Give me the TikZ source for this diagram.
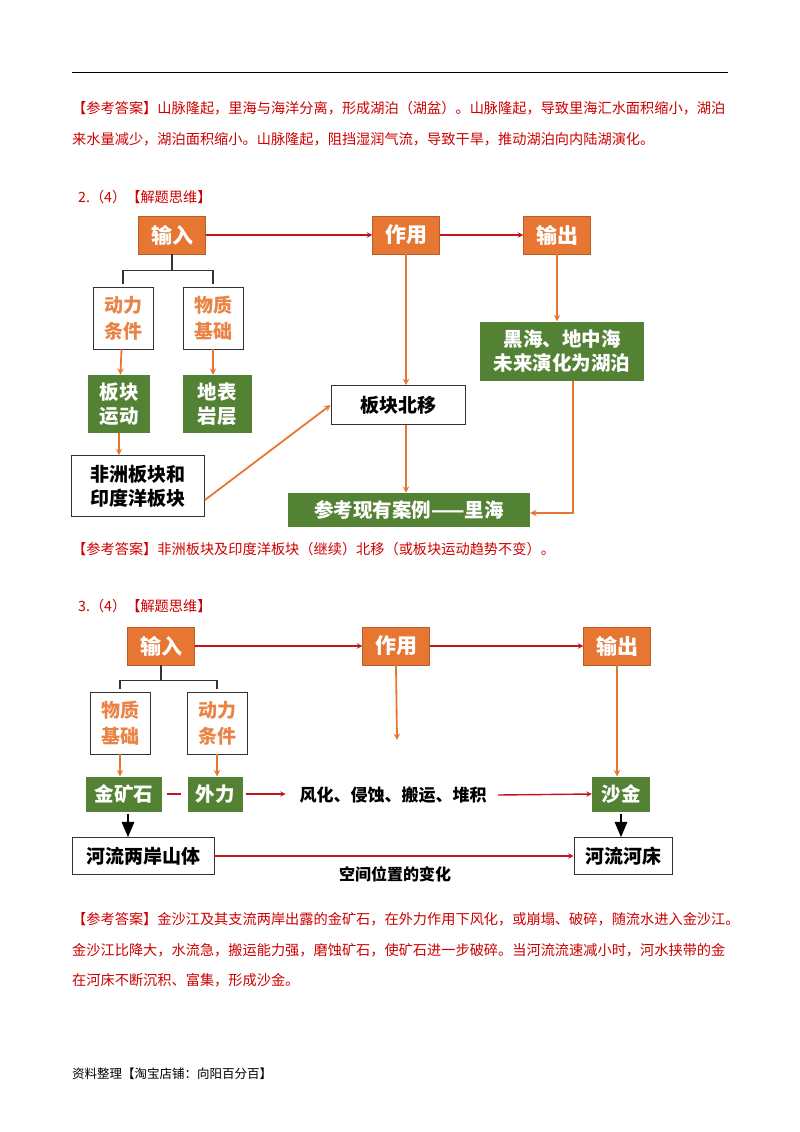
\documentclass[tikz,border=0pt]{standalone}
\usepackage{fontspec}
\setmainfont{Noto Sans CJK SC}
\usetikzlibrary{arrows, positioning, calc}
\definecolor{ansred}{RGB}{204,0,0}
\definecolor{boxorange}{RGB}{230,118,50}
\definecolor{boxgreen}{RGB}{84,130,53}
\definecolor{arrred}{RGB}{192,20,30}
\begin{document}
\begin{tikzpicture}[x=1pt, y=-1pt, >=stealth,
	head/.style={fill=boxorange, draw=boxorange!80!black, text=white, font=\fontsize{21}{22}\selectfont\bfseries, minimum width=67pt, minimum height=38pt, inner sep=0pt},
	green/.style={fill=boxgreen, text=white, font=\fontsize{19.5}{24}\selectfont\bfseries, align=center, inner sep=0pt},
	plain/.style={draw=black!80, fill=white, thick, font=\fontsize{19}{24}\selectfont\bfseries, align=center, inner sep=0pt},
	cond/.style={draw=black!80, fill=white, thick, text=boxorange!90, font=\fontsize{19}{26}\selectfont\bfseries, align=center, inner sep=0pt, minimum width=60pt, minimum height=62pt},
	ans/.style={anchor=west, text=ansred, font=\fontsize{14.2}{16}\selectfont, inner sep=0pt},
	flow/.style={->, arrred, line width=1.4pt},
	feed/.style={->, boxorange, line width=1.8pt},
	brace/.style={black!80, line width=1.2pt}]
	\useasboundingbox (0,0) rectangle (800,1132);
	\draw[line width=0.8pt] (72,72) -- (728,72);

	\node[ans] (a1) at (72,108) {【参考答案】山脉隆起，里海与海洋分离，形成湖泊（湖盆）。山脉隆起，导致里海汇水面积缩小，湖泊};
	\node[ans] (a2) at (72,139) {来水量减少，湖泊面积缩小。山脉隆起，阻挡湿润气流，导致干旱，推动湖泊向内陆湖演化。};

	% question 2
	\node[ans] (q2) at (78,197) {2.（4）【解题思维】};
	\node[head] (in2) at (172,235) {输入};
	\node[head] (act2) at (406,235) {作用};
	\node[head] (out2) at (557,235) {输出};
	\node[cond] (dl2) at (123,318) {动力\\条件};
	\node[cond] (wz2) at (213,318) {物质\\基础};
	\node[green, minimum width=62pt, minimum height=58pt] (bk2) at (119,404) {板块\\运动};
	\node[green, minimum width=69pt, minimum height=58pt] (db2) at (217,404) {地表\\岩层};
	\node[plain, minimum width=133pt, minimum height=61pt] (fz2) at (138,486) {非洲板块和\\印度洋板块};
	\node[plain, minimum width=134pt, minimum height=39pt] (bb2) at (398,405) {板块北移};
	\node[green, minimum width=242pt, minimum height=34pt] (ck2) at (409,510) {参考现有案例——里海};
	\node[green, minimum width=164pt, minimum height=59pt] (hh2) at (562,351) {黑海、地中海\\未来演化为湖泊};

	\draw[flow] (in2) -- (act2);
	\draw[flow] (act2) -- (out2);
	\draw[brace] (in2.south) -- ++(0,16) coordinate (b2);
	\draw[brace] (dl2.north) ++(0,-3) |- (b2) -| ($(wz2.north)+(0,-3)$);
	\draw[feed] (dl2) -- (bk2);
	\draw[feed] (wz2) -- (wz2 |- db2.north);
	\draw[feed] (bk2) -- (bk2 |- fz2.north);
	\draw[feed] ($(fz2.east)+(0,14)$) -- (bb2.west);
	\draw[feed] (act2.south) -- (act2.south |- bb2.north);
	\draw[feed] (act2 |- bb2.south) -- (act2 |- ck2.north);
	\draw[feed] (out2.south) -- (out2.south |- hh2.north);
	\draw[feed] ($(hh2.south)+(11,0)$) |- ($(ck2.east)+(0,3)$);

	\node[ans] (a3) at (72,549) {【参考答案】非洲板块及印度洋板块（继续）北移（或板块运动趋势不变）。};

	% question 3
	\node[ans] (q3) at (78,606) {3.（4）【解题思维】};
	\node[head] (in3) at (161,646) {输入};
	\node[head] (act3) at (396,646) {作用};
	\node[head] (out3) at (617,646) {输出};
	\node[cond] (wz3) at (120,723) {物质\\基础};
	\node[cond] (dl3) at (217,723) {动力\\条件};
	\node[green, minimum width=76pt, minimum height=35pt] (jk3) at (124,794) {金矿石};
	\node[green, minimum width=55pt, minimum height=35pt] (wl3) at (215,794) {外力};
	\node[green, minimum width=58pt, minimum height=35pt] (sj3) at (621,794) {沙金};
	\node[plain, minimum width=142pt, minimum height=37pt] (hl3) at (143,856) {河流两岸山体};
	\node[plain, minimum width=98pt, minimum height=37pt] (hc3) at (623,856) {河流河床};
	\node[font=\fontsize{17}{20}\selectfont\bfseries] (gc3) at (393,795) {风化、侵蚀、搬运、堆积};
	\node[font=\fontsize{16}{20}\selectfont\bfseries] (kj3) at (395,874) {空间位置的变化};
	\coordinate (e3) at (397,740);

	\draw[flow] (in3) -- (act3);
	\draw[flow] (act3) -- (out3);
	\draw[brace] (in3.south) -- ++(0,15) coordinate (b3);
	\draw[brace] (wz3.north) ++(0,-3) |- (b3) -| ($(dl3.north)+(0,-3)$);
	\draw[feed] (act3.south) -- (e3);
	\draw[feed] (out3.south) -- (out3.south |- sj3.north);
	\draw[feed] (wz3) -- (wz3 |- jk3.north);
	\draw[feed] (dl3) -- (dl3 |- wl3.north);
	\draw[arrred, line width=1.4pt] ($(jk3.east)+(5,0)$) -- ($(wl3.west)+(-6,0)$);
	\draw[flow] ($(wl3.east)+(3,0)$) -- ++(40,0);
	\draw[flow] ($(gc3.east)+(8,0)$) -- (sj3.west);
	\draw[->, line width=2.6pt, >=triangle 45] (jk3.south -| 128,0) ++(0,2) -- (hl3.north -| 128,0);
	\draw[->, line width=2.6pt, >=triangle 45] (sj3.south) ++(0,2) -- (hc3.north -| sj3);
	\draw[flow] (hl3) -- (hc3);

	\node[ans] (a4) at (72,919) {【参考答案】金沙江及其支流两岸出露的金矿石，在外力作用下风化，或崩塌、破碎，随流水进入金沙江。};
	\node[ans] (a5) at (72,950) {金沙江比降大，水流急，搬运能力强，磨蚀矿石，使矿石进一步破碎。当河流流速减小时，河水挟带的金};
	\node[ans] (a6) at (72,980) {在河床不断沉积、富集，形成沙金。};

	\node[anchor=west, font=\fontsize{12.5}{15}\selectfont, inner sep=0pt] (ft) at (72,1074) {资料整理【淘宝店铺：向阳百分百】};
\end{tikzpicture}
\end{document}
